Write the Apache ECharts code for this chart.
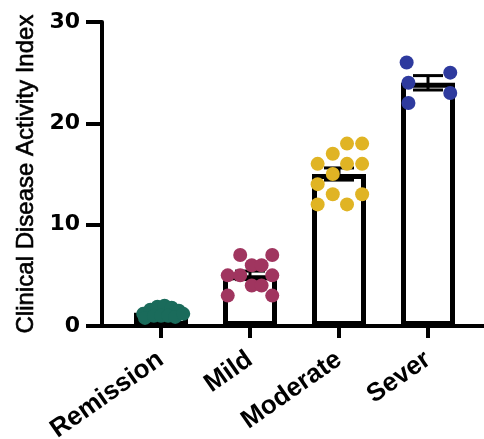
<!DOCTYPE html>
<html><head><meta charset="utf-8">
<script src="https://cdn.jsdelivr.net/npm/echarts@6/dist/echarts.min.js"></script>
<style>html,body{margin:0;padding:0;background:#fff}#c{width:484px;height:439px}</style>
</head><body><div id="c"></div>
<script>
const categories = ['Remission', 'Mild', 'Moderate', 'Sever'];
const yTicks = [0, 10, 20, 30];
const means = [1.3, 5.0, 15.0, 24.0];
const sems = [0.12, 0.42, 0.6, 0.71];
const colors = ['#1a6b5b', '#a0355f', '#e0b424', '#2e3a9e'];
// individual points: [category offset (in category units), value]
const remissionPts = [[-0.2,1.2],[-0.12,1.6],[-0.04,1.9],[0.04,2.0],[0.12,1.8],[0.2,1.5],[-0.18,0.8],[-0.08,1.0],[0.0,1.0],[0.08,1.0],[0.16,0.9],[0.25,1.2]];
const mildPts = [[-0.11,7],[0.25,7],[0.02,6],[0.13,6],[-0.25,5],[-0.11,5],[0.25,5],[0.02,4],[0.13,4],[-0.25,3],[0.25,3]];
const moderatePts = [[0.09,18],[0.26,18],[-0.07,17],[-0.24,16],[0.09,16],[0.26,16],[-0.07,15],[-0.24,14],[-0.07,13],[0.26,13],[-0.24,12],[0.09,12]];
const severPts = [[-0.24,26],[0.25,25],[-0.22,24],[0.25,23],[-0.22,22]];
const groups = [remissionPts, mildPts, moderatePts, severPts];

const font = 'Liberation Sans, Arial, sans-serif';
const chart = echarts.init(document.getElementById('c'));
const scatterSeries = groups.map((pts, i) => ({
  type: 'scatter', xAxisIndex: 1, yAxisIndex: 0, z: 5,
  symbolSize: 14,
  itemStyle: { color: colors[i], opacity: 1 },
  data: pts.map(p => [i + p[0], p[1]])
}));
chart.setOption({
  animation: false,
  grid: [
    { left: 116.5, right: 11.5, top: 22, bottom: 113, containLabel: false, outerBoundsMode: 'none' },
    { left: 102, right: 0, top: 22, bottom: 113, containLabel: false, outerBoundsMode: 'none' }
  ],
  xAxis: [
    { type: 'category', gridIndex: 0, data: categories,
      axisLine: { show: true, onZero: false, lineStyle: { color: '#000', width: 4 } },
      axisTick: { show: true, alignWithLabel: true, length: 12, lineStyle: { color: '#000', width: 4 } },
      axisLabel: { rotate: 35, margin: 31, color: '#000', fontFamily: font, fontWeight: 'bold', fontSize: 26, interval: 0 },
      splitLine: { show: false } },
    { type: 'value', gridIndex: 0, min: -0.5, max: 3.5, show: false },
    { type: 'value', gridIndex: 1, min: 0, max: 1, axisLine: { show: true, onZero: false, lineStyle: { color: '#000', width: 4 } },
      axisTick: { show: false }, axisLabel: { show: false }, splitLine: { show: false } }
  ],
  yAxis: [
    { type: 'value', gridIndex: 0, min: 0, max: 30, interval: 10, offset: 14.5,
      name: 'Clinical Disease Activity Index', nameLocation: 'middle', nameGap: 64,
      nameTextStyle: { color: '#000', fontFamily: font, fontSize: 24, fontWeight: 'normal', textBorderColor: '#000', textBorderWidth: 0.6 },
      axisLine: { show: true, onZero: false, lineStyle: { color: '#000', width: 4 } },
      axisTick: { show: true, length: 16, lineStyle: { color: '#000', width: 4 } },
      axisLabel: { margin: 22, color: '#000', fontFamily: 'DejaVu Sans, sans-serif', fontWeight: 'bold', fontSize: 22,
        formatter: v => yTicks.includes(v) ? String(v) : '' },
      splitLine: { show: false } },
    { type: 'value', gridIndex: 1, min: 0, max: 1, show: false }
  ],
  series: [
    { type: 'bar', xAxisIndex: 0, yAxisIndex: 0, data: means, barWidth: 54, z: 2,
      itemStyle: { color: '#fff', borderColor: '#000', borderWidth: 5 } },
    { type: 'custom', xAxisIndex: 0, yAxisIndex: 0, z: 4,
      data: means.map((m, i) => [i, m - sems[i], m + sems[i]]),
      renderItem: (params, api) => {
        const lo = api.coord([api.value(0), api.value(1)]);
        const hi = api.coord([api.value(0), api.value(2)]);
        const hw = 15;
        const st = { stroke: '#000', lineWidth: 3 };
        return { type: 'group', children: [
          { type: 'line', shape: { x1: lo[0], y1: lo[1], x2: hi[0], y2: hi[1] }, style: st },
          { type: 'line', shape: { x1: lo[0]-hw, y1: lo[1], x2: lo[0]+hw, y2: lo[1] }, style: st },
          { type: 'line', shape: { x1: hi[0]-hw, y1: hi[1], x2: hi[0]+hw, y2: hi[1] }, style: st }
        ]};
      } },
    ...scatterSeries
  ]
});
</script></body></html>
